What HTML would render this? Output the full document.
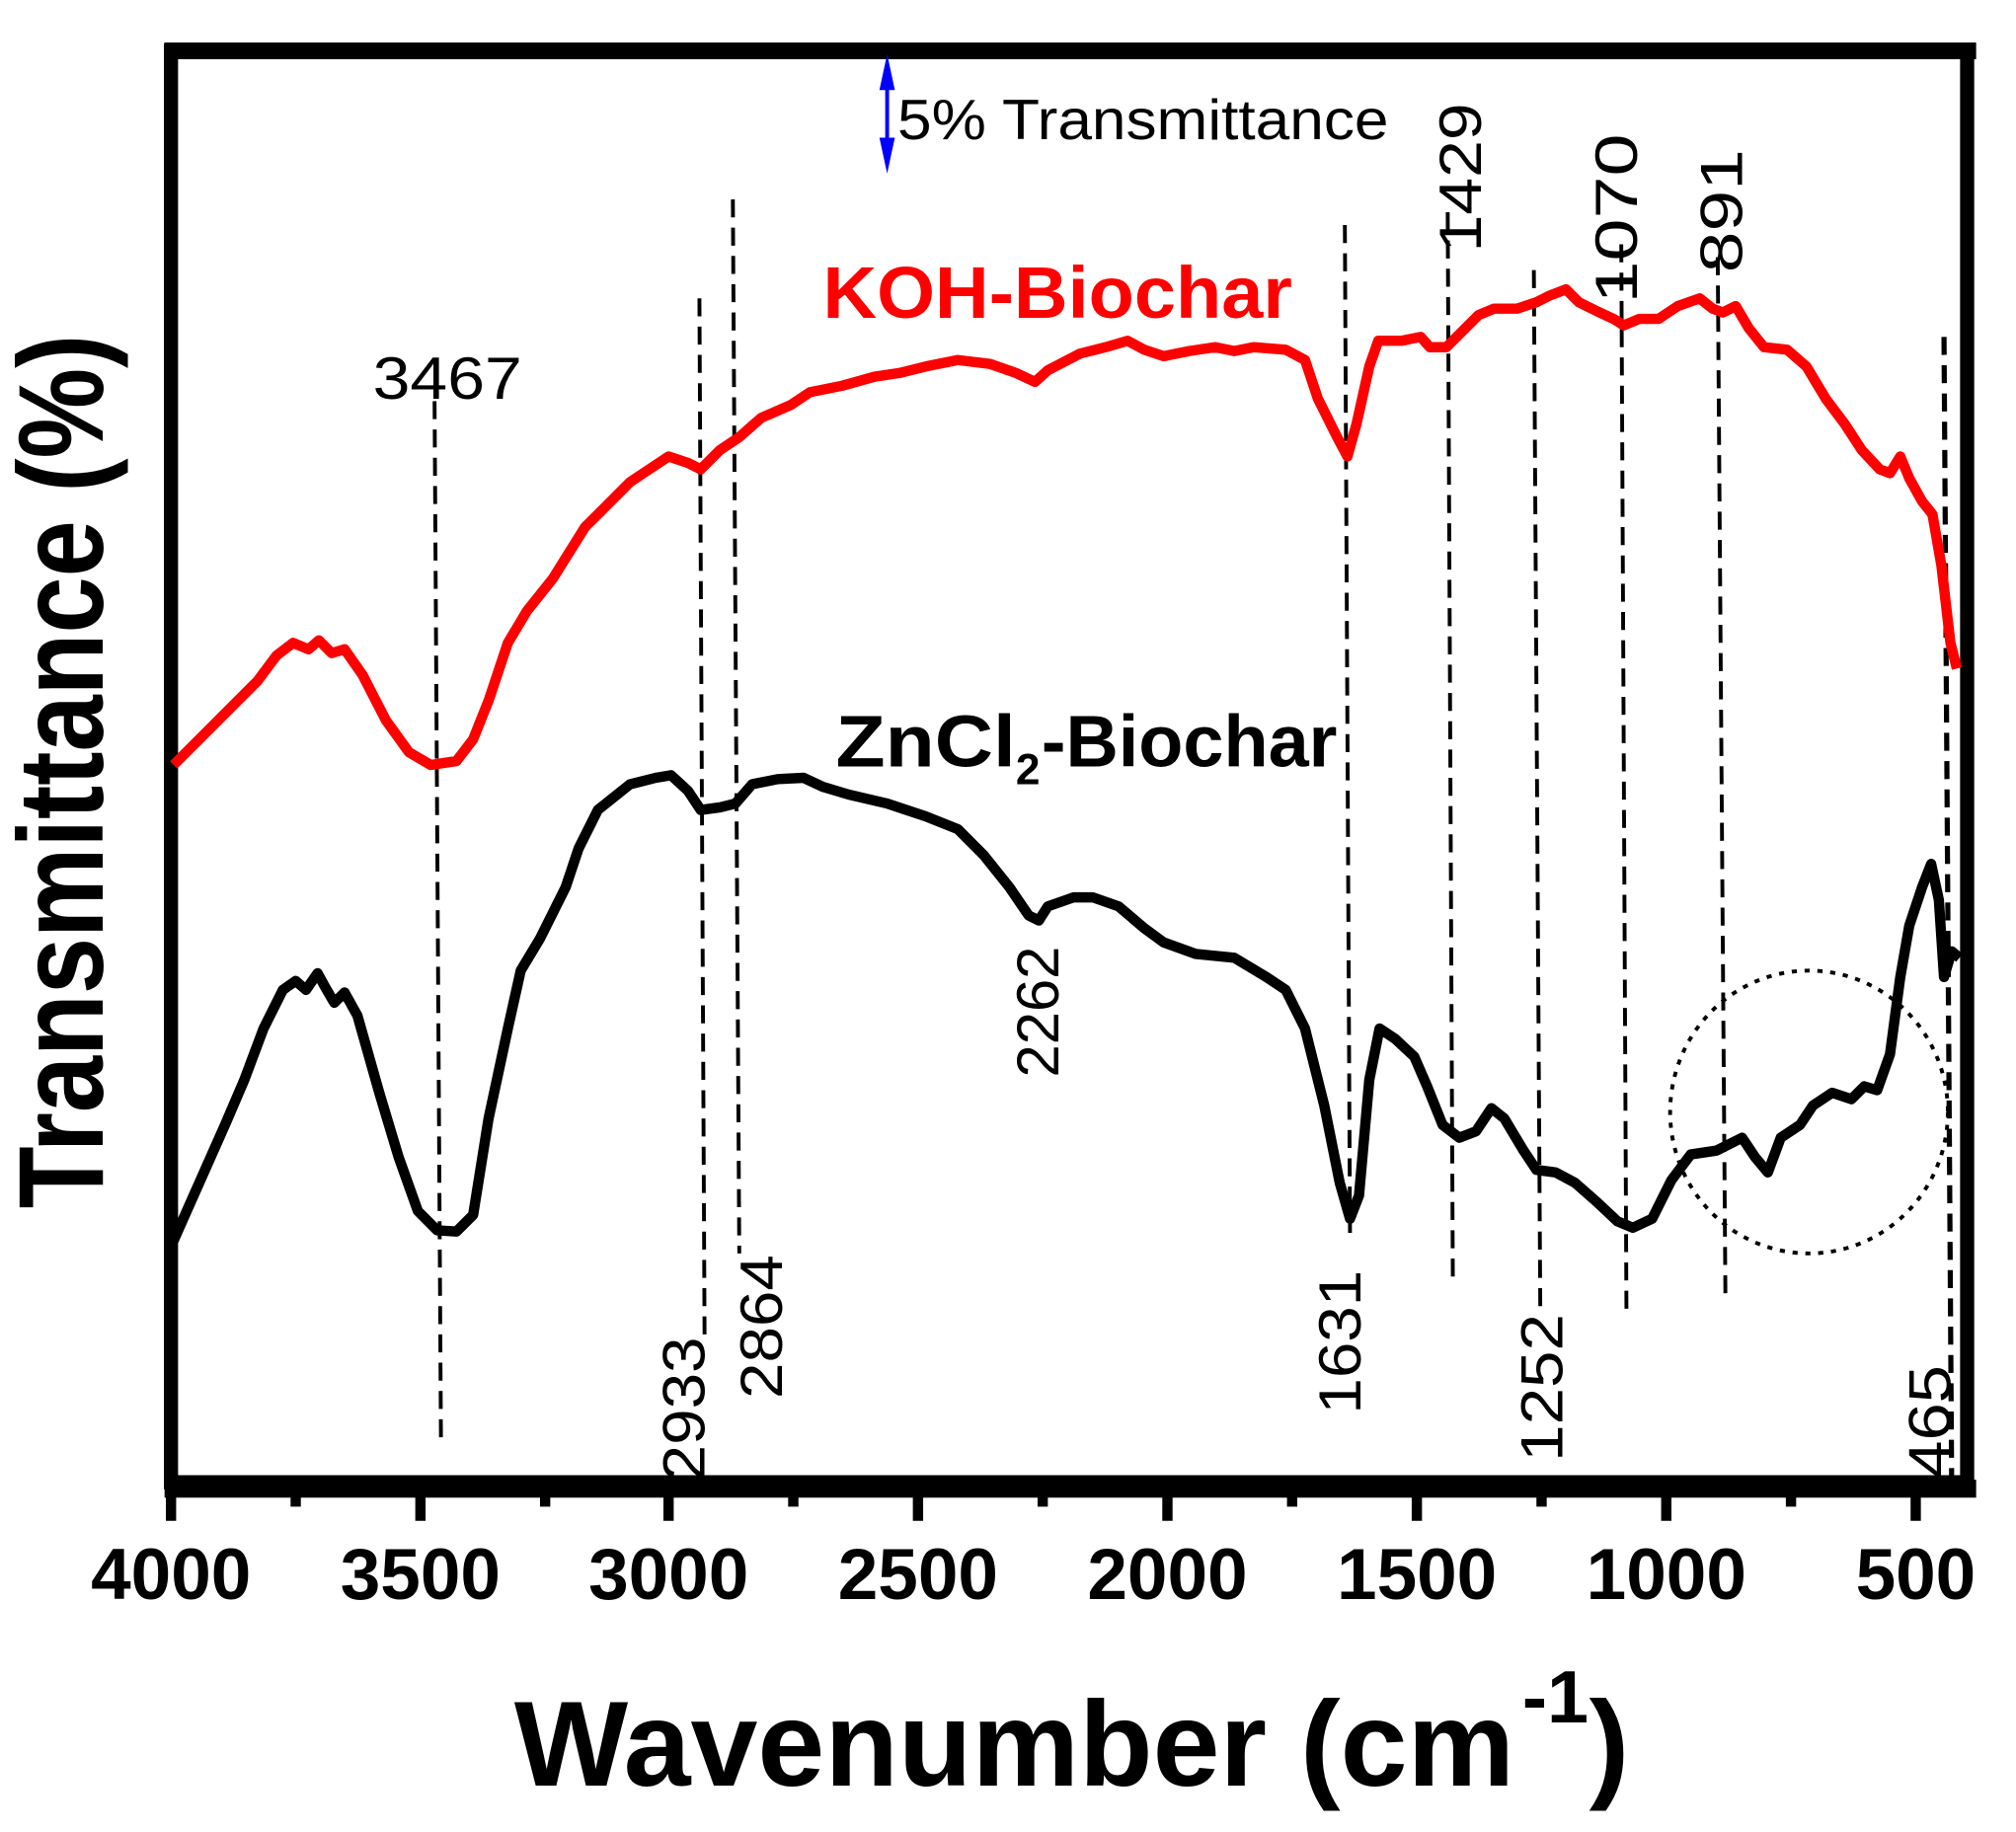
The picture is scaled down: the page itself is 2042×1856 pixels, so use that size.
<!DOCTYPE html>
<html><head><meta charset="utf-8"><style>html,body{margin:0;padding:0;background:#fff}svg{display:block}</style></head>
<body>
<svg width="2042" height="1856" viewBox="0 0 1568 1425" xmlns="http://www.w3.org/2000/svg" font-family="Liberation Sans, Arial, sans-serif">
<rect width="1568" height="1425" fill="#fff"/>
<!-- frame -->
<rect x="133" y="39" width="1397" height="1114" fill="none" stroke="#000" stroke-width="11"/>
<rect x="128" y="1151" width="1409" height="14" fill="#000"/>
<rect x="128" y="33" width="1409" height="13" fill="#000"/>
<!-- ticks -->
<g stroke="#000" stroke-width="8">
<line x1="133" y1="1160" x2="133" y2="1183"/><line x1="327" y1="1160" x2="327" y2="1183"/><line x1="520" y1="1160" x2="520" y2="1183"/><line x1="714" y1="1160" x2="714" y2="1183"/><line x1="908" y1="1160" x2="908" y2="1183"/><line x1="1102" y1="1160" x2="1102" y2="1183"/><line x1="1296" y1="1160" x2="1296" y2="1183"/><line x1="1490" y1="1160" x2="1490" y2="1183"/>
<line x1="230" y1="1160" x2="230" y2="1172"/><line x1="424" y1="1160" x2="424" y2="1172"/><line x1="617" y1="1160" x2="617" y2="1172"/><line x1="811" y1="1160" x2="811" y2="1172"/><line x1="1005" y1="1160" x2="1005" y2="1172"/><line x1="1199" y1="1160" x2="1199" y2="1172"/><line x1="1393" y1="1160" x2="1393" y2="1172"/>
</g>
<g font-weight="bold" font-size="56" text-anchor="middle">
<text x="133" y="1244">4000</text><text x="327" y="1244">3500</text><text x="520" y="1244">3000</text><text x="714" y="1244">2500</text><text x="908" y="1244">2000</text><text x="1102" y="1244">1500</text><text x="1296" y="1244">1000</text><text x="1490" y="1244">500</text>
</g>
<text x="400" y="1389" font-weight="bold" font-size="94" textLength="778" lengthAdjust="spacingAndGlyphs">Wavenumber (cm</text>
<text x="1184" y="1340" font-weight="bold" font-size="58">-1</text>
<text x="1236" y="1389" font-weight="bold" font-size="94">)</text>
<text transform="translate(80,940) rotate(-90)" font-weight="bold" font-size="94" textLength="680" lengthAdjust="spacingAndGlyphs">Transmittance (%)</text>
<!-- dashed lines -->
<g stroke="#000" stroke-width="3" stroke-dasharray="14,8" fill="none">
<line x1="338" y1="312" x2="343" y2="1125"/>
<line x1="544" y1="232" x2="548" y2="1040"/>
<line x1="570" y1="155" x2="575" y2="975"/>
<line x1="1046" y1="175" x2="1050" y2="960"/>
<line x1="1126" y1="165" x2="1130" y2="1000"/>
<line x1="1193" y1="210" x2="1198" y2="1018"/>
<line x1="1261" y1="190" x2="1265" y2="1018"/>
<line x1="1336" y1="200" x2="1342" y2="1010"/>
<line x1="1512" y1="262" x2="1518" y2="1160" stroke-width="4"/>
</g>
<ellipse cx="1407" cy="865" rx="108" ry="110" fill="none" stroke="#000" stroke-width="3" stroke-dasharray="4,6"/>
<!-- curves -->
<polyline fill="none" stroke="#f00" stroke-width="8" stroke-linejoin="round" points="135,595 160,570 185,545 200,530 215,510 228,500 240,505 248,498 258,508 268,505 282,525 300,560 318,585 335,595 355,592 368,575 380,545 395,500 410,475 430,450 455,410 470,395 490,375 505,365 520,355 535,360 545,365 560,350 575,340 592,325 615,315 630,305 655,300 680,293 700,290 720,285 745,280 770,283 790,290 805,297 815,288 840,275 860,270 877,265 890,272 905,277 925,273 945,270 960,273 975,270 1000,272 1015,280 1025,310 1040,340 1048,355 1055,330 1065,285 1072,265 1090,265 1105,262 1112,270 1125,270 1140,255 1150,245 1162,240 1180,240 1195,235 1205,230 1218,225 1228,235 1242,242 1255,248 1263,253 1275,248 1290,248 1305,238 1322,232 1332,240 1340,243 1350,238 1360,255 1372,270 1390,272 1405,285 1420,310 1435,330 1448,350 1462,365 1470,368 1478,355 1485,372 1495,390 1503,400 1510,440 1517,500 1522,520"/>
<polyline fill="none" stroke="#000" stroke-width="8" stroke-linejoin="round" points="135,965 155,920 175,875 190,840 205,800 220,770 230,763 238,770 247,757 253,768 260,780 268,772 278,790 295,850 310,900 325,942 340,957 355,958 368,945 380,870 395,800 405,755 420,730 440,690 450,660 465,630 490,610 510,605 522,603 535,615 545,630 560,628 572,625 585,610 605,606 625,605 640,612 660,618 690,625 720,635 745,645 765,665 785,690 800,712 808,716 815,705 835,698 850,698 870,705 890,722 905,733 930,742 960,745 985,760 1000,770 1015,800 1030,860 1042,920 1050,948 1057,930 1065,840 1073,800 1085,808 1100,822 1110,845 1122,875 1135,885 1148,880 1160,862 1170,870 1185,895 1195,910 1210,912 1225,920 1242,935 1258,950 1270,955 1285,948 1300,918 1315,898 1335,895 1355,885 1365,900 1375,912 1385,885 1400,875 1410,860 1425,850 1440,855 1450,845 1460,848 1470,820 1478,760 1485,720 1495,690 1502,672 1508,700 1512,760 1518,740 1524,745"/>
<!-- arrow -->
<line x1="690" y1="55" x2="690" y2="122" stroke="#00f" stroke-width="3"/>
<polygon points="690,42 684,70 696,70" fill="#00f"/>
<polygon points="690,135 684,107 696,107" fill="#00f"/>
<text x="698" y="108" font-size="44" textLength="382" lengthAdjust="spacingAndGlyphs">5% Transmittance</text>
<text x="640" y="247" font-size="57" font-weight="bold" fill="#f00" textLength="365" lengthAdjust="spacingAndGlyphs">KOH-Biochar</text>
<text x="650" y="596" font-size="57" font-weight="bold" textLength="140" lengthAdjust="spacingAndGlyphs">ZnCl</text>
<text x="790" y="610" font-size="34" font-weight="bold">2</text>
<text x="810" y="596" font-size="57" font-weight="bold" textLength="230" lengthAdjust="spacingAndGlyphs">-Biochar</text>
<g font-size="46">
<text x="290" y="310" textLength="116" lengthAdjust="spacingAndGlyphs">3467</text>
<text transform="translate(823,838) rotate(-90)" textLength="102" lengthAdjust="spacingAndGlyphs">2262</text>
<text transform="translate(548,1152) rotate(-90)" textLength="112" lengthAdjust="spacingAndGlyphs">2933</text>
<text transform="translate(608,1088) rotate(-90)" textLength="112" lengthAdjust="spacingAndGlyphs">2864</text>
<text transform="translate(1058,1100) rotate(-90)" textLength="112" lengthAdjust="spacingAndGlyphs">1631</text>
<text transform="translate(1215,1137) rotate(-90)" textLength="115" lengthAdjust="spacingAndGlyphs">1252</text>
<text transform="translate(1517,1150) rotate(-90)" textLength="88" lengthAdjust="spacingAndGlyphs">465</text>
<text transform="translate(1152,196) rotate(-90)" textLength="116" lengthAdjust="spacingAndGlyphs">1429</text>
<text transform="translate(1273,236) rotate(-90)" textLength="132" lengthAdjust="spacingAndGlyphs">1070</text>
<text transform="translate(1355,212) rotate(-90)" textLength="96" lengthAdjust="spacingAndGlyphs">891</text>
</g>
</svg>
</body></html>
